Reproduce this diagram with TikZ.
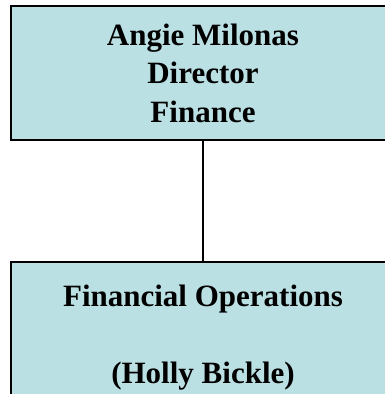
\documentclass[tikz,border=0pt]{standalone}
\usepackage{fontspec}
\setmainfont{Liberation Serif}
\definecolor{boxfill}{RGB}{187,224,228}
\begin{document}
\begin{tikzpicture}[x=1pt,y=-1pt,
  orgbox/.style={draw=black,line width=1.6pt,fill=boxfill,rectangle,align=center,minimum width=384pt,inner sep=0pt,font=\fontsize{31}{38.5}\selectfont\bfseries}]
\useasboundingbox (0,0) rectangle (385,394);
\node[orgbox,minimum height=134pt](director) at (203,73){Angie Milonas\\Director\\Finance};
\node[orgbox,minimum height=152pt](finops) at (203,338){Financial Operations\\ \mbox{}\\(Holly Bickle)};
\draw[line width=1.6pt](director.south)--(finops.north);
\end{tikzpicture}
\end{document}
